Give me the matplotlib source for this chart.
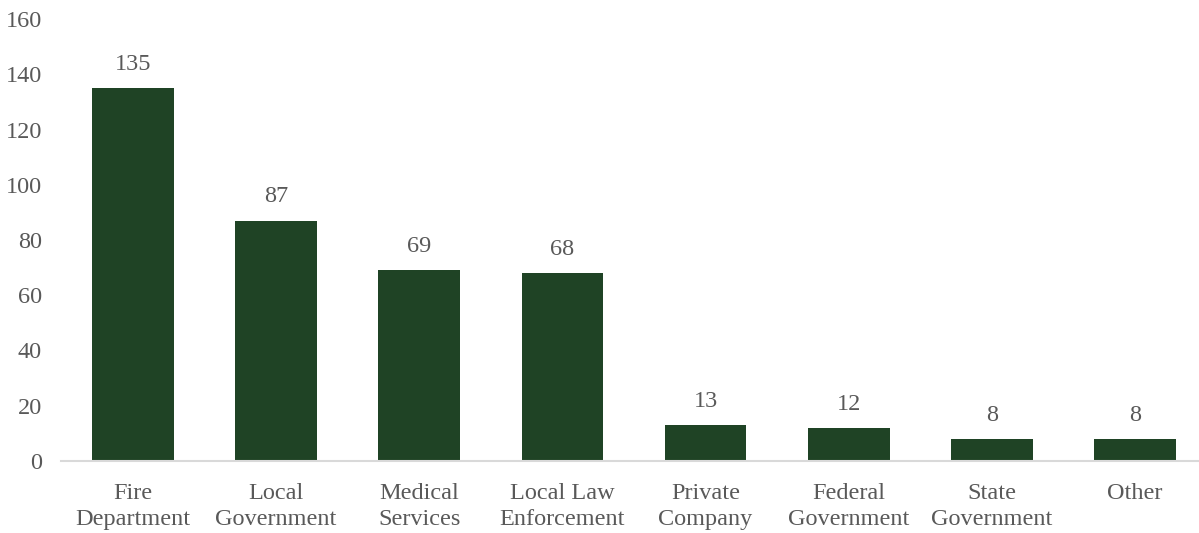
import matplotlib
matplotlib.use("Agg")
import matplotlib.pyplot as plt

categories = ["Fire\nDepartment", "Local\nGovernment", "Medical\nServices",
              "Local Law\nEnforcement", "Private\nCompany", "Federal\nGovernment",
              "State\nGovernment", "Other"]
counts = [135, 87, 69, 68, 13, 12, 8, 8]
y_ticks = [0, 20, 40, 60, 80, 100, 120, 140, 160]

plt.rcParams["font.family"] = ["Liberation Serif", "DejaVu Serif"]

bar_color = "#1f4325"
text_color = "#595959"
fs = 17.5

fig = plt.figure(figsize=(11.99, 5.33), dpi=100)
ax = fig.add_axes([61.4 / 1199, 72 / 533, 1145.2 / 1199, 442 / 533])

x = list(range(len(categories)))
bars = ax.bar(x, counts, width=0.57, color=bar_color, zorder=3)

for rect, v in zip(bars, counts):
    ax.annotate(str(v), (rect.get_x() + rect.get_width() / 2, v),
                xytext=(0, 9.5), textcoords="offset points",
                ha="center", va="bottom", fontsize=fs, color=text_color)

ax.set_xlim(-0.5, len(categories) - 0.5)
ax.set_ylim(0, 160)
ax.set_yticks(y_ticks)
ax.set_xticks(x)
ax.set_xticklabels(categories, fontsize=fs, color=text_color, linespacing=1.3)
ax.tick_params(axis="y", length=0, pad=14, labelsize=fs, labelcolor=text_color)
ax.tick_params(axis="x", length=0, pad=16)

for side in ["left", "right", "top"]:
    ax.spines[side].set_visible(False)
ax.spines["bottom"].set_color("#d9d9d9")
ax.spines["bottom"].set_linewidth(1.5)
ax.spines["bottom"].set_zorder(4)

fig.savefig("out.png", dpi=100)
